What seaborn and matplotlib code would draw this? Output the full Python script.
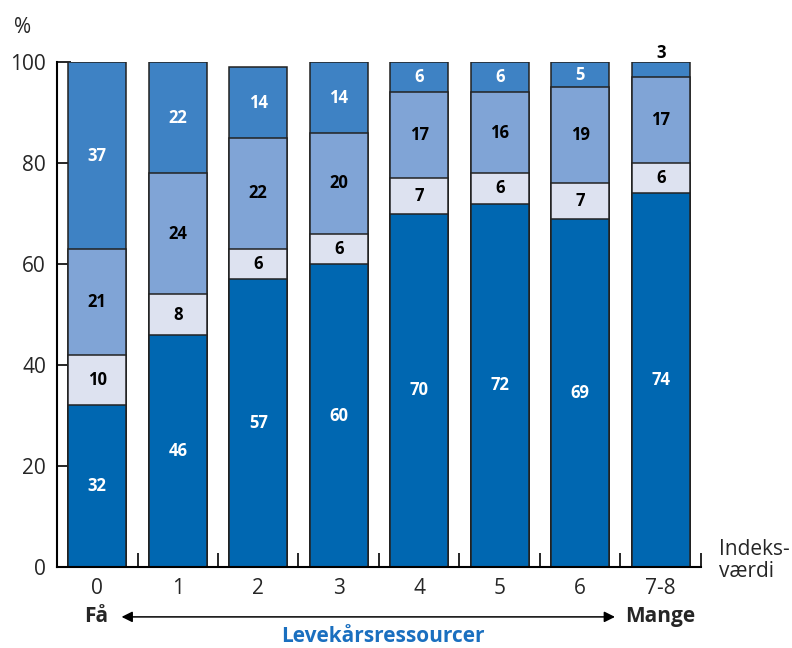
import matplotlib
matplotlib.use("Agg")
import matplotlib.pyplot as plt
import numpy as np
import pandas as pd
import seaborn as sns

categories = ["0", "1", "2", "3", "4", "5", "6", "7-8"]
seg1 = [32, 46, 57, 60, 70, 72, 69, 74]   # bottom, dark blue
seg2 = [10, 8, 6, 6, 7, 6, 7, 6]          # pale
seg3 = [21, 24, 22, 20, 17, 16, 19, 17]   # medium blue
seg4 = [37, 22, 14, 14, 6, 6, 5, 3]       # top blue

colors = ["#0067b1", "#dde2f0", "#80a4d6", "#3e82c4"]
label_colors = ["white", "black", "black", "white"]

sns.set_style("white")
plt.rcParams["font.family"] = ["Open Sans", "DejaVu Sans"]

fig = plt.figure(figsize=(7.92, 6.48), dpi=100)
ax = fig.add_axes([0.072, 0.125, 0.813, 0.779])

segs = [seg1, seg2, seg3, seg4]
cums = np.cumsum(np.array(segs), axis=0)

# draw cumulative bars from top to bottom so each layer covers the next
for i in range(3, -1, -1):
    df = pd.DataFrame({"kat": categories, "val": cums[i]})
    sns.barplot(data=df, x="kat", y="val", order=categories, color=colors[i],
                width=0.72, edgecolor="#222222", linewidth=1.1, saturation=1,
                ax=ax, zorder=2)

# value labels
for i, seg in enumerate(segs):
    bottoms = cums[i] - np.array(seg)
    for j, v in enumerate(seg):
        y = bottoms[j] + v / 2
        c = label_colors[i]
        if v <= 3:
            y = cums[i][j] + 1.9
            c = "black"
        ax.text(j, y, str(v), ha="center", va="center", color=c,
                fontsize=12, fontweight="bold", clip_on=False, zorder=5)

ax.set_xlim(-0.5, 7.5)
ax.set_ylim(0, 100)
ax.set_yticks([0, 20, 40, 60, 80, 100])
ax.set_xticks(range(len(categories)))
ax.set_xticklabels(categories)
ax.set_xticks(np.arange(-0.5, 8, 1), minor=True)
ax.set_xlabel("")
ax.set_ylabel("")

ax.tick_params(axis="y", left=True, direction="in", length=10, width=1.4,
               labelsize=15, pad=8)
ax.tick_params(axis="x", which="major", bottom=True, length=0, labelsize=15, pad=8)
ax.tick_params(axis="x", which="minor", bottom=True, direction="in", length=10,
               width=1.4)
for s in ["top", "right"]:
    ax.spines[s].set_visible(False)
for s in ["left", "bottom"]:
    ax.spines[s].set_linewidth(1.5)
    ax.spines[s].set_color("black")

fig.text(0.028, 0.958, "%", fontsize=15, ha="center", va="center")
fig.text(0.908, 0.135, "Indeks-\nværdi", fontsize=15, ha="left", va="center",
         linespacing=1.1)
fig.text(0.122, 0.048, "Få", fontsize=15, fontweight="bold", ha="center", va="center")
fig.text(0.833, 0.048, "Mange", fontsize=15, fontweight="bold", ha="center", va="center")
fig.text(0.483, 0.018, "Levekårsressourcer", fontsize=15, fontweight="bold",
         color="#1a6fbf", ha="center", va="center")
fig.add_artist(matplotlib.patches.FancyArrowPatch(
    (0.150, 0.048), (0.780, 0.048), transform=fig.transFigure,
    arrowstyle="<|-|>", mutation_scale=16, color="black", linewidth=1.1))

fig.savefig("out.png", dpi=100)
